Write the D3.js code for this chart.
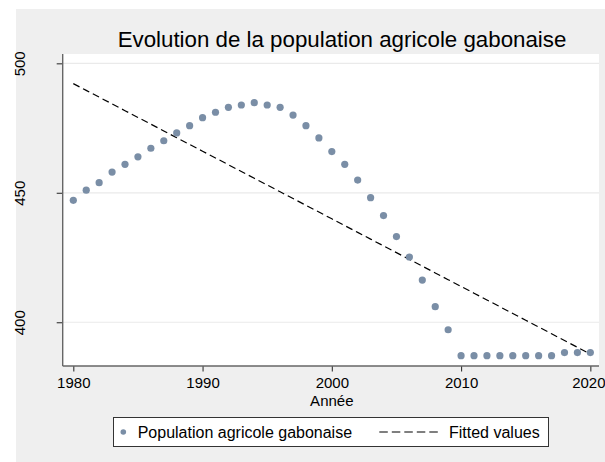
<!DOCTYPE html>
<html>
<head>
<meta charset="utf-8">
<script src="https://cdn.jsdelivr.net/npm/d3@7"></script>
<style>
	body { margin: 0; background: #fff; }
	svg { display: block; font-family: "Liberation Sans", Arial, sans-serif; }
</style>
</head>
<body>
<div id="chart"></div>
<script>
const years = d3.range(1980, 2021);
// population agricole (milliers)
const population = [
	447.1, 451.0, 453.9, 458.0, 461.0, 463.9, 467.2, 470.1, 473.1, 475.9,
	479.0, 481.1, 483.0, 483.9, 484.8, 483.9, 483.0, 480.0, 475.9, 471.2,
	465.9, 461.0, 454.9, 448.1, 441.2, 433.1, 425.2, 416.3, 406.0, 397.1,
	387.1, 387.1, 387.1, 387.1, 387.1, 387.1, 387.1, 387.1, 388.3, 388.3,
	388.3
];
const xTicks = [1980, 1990, 2000, 2010, 2020];
const yTicks = [400, 450, 500];
const title = 'Evolution de la population agricole gabonaise';
const xTitle = 'Année';
const legendLabels = ['Population agricole gabonaise', 'Fitted values'];

const width = 605, height = 462;
const margin = {t:54, r:6, b:96, l:62.7};
const w = width - margin.l - margin.r;
const h = height - margin.t - margin.b;

const data = years.map((y, i) => ({year: y, value: population[i]}));

// linear fit (like Stata lfit)
const mx = d3.mean(data, d => d.year);
const my = d3.mean(data, d => d.value);
const slope = d3.sum(data, d => (d.year - mx) * (d.value - my)) / d3.sum(data, d => (d.year - mx) ** 2);
const fitted = data.map(d => ({year: d.year, value: my + slope * (d.year - mx)}));

const scaleX = d3.scaleLinear().domain([1979.18, 2020.67]).range([0, w]);
const scaleY = d3.scaleLinear().domain([383.1, 503.6]).range([h, 0]);

const svg = d3.select('#chart').append('svg')
	.attr('width', width)
	.attr('height', height);

// outer gray region
svg.append('rect')
	.attr('x', 16).attr('y', 9)
	.attr('width', width - 16).attr('height', height - 9)
	.attr('fill', '#efefef');

svg.append('text')
	.attr('x', 342).attr('y', 46.5)
	.attr('text-anchor', 'middle')
	.style('font-size', '22.3px')
	.attr('fill', '#000')
	.text(title);

const plot = svg.append('g')
	.attr('transform', `translate(${margin.l},${margin.t})`);

plot.append('rect')
	.attr('width', w).attr('height', h)
	.attr('fill', '#fff');

// grid
plot.selectAll('.grid')
	.data(yTicks)
	.enter().append('line')
	.attr('class', 'grid')
	.attr('x1', 0).attr('x2', w)
	.attr('y1', d => scaleY(d)).attr('y2', d => scaleY(d))
	.attr('stroke', '#eaeaea')
	.attr('stroke-width', 1.2);

// axes
const axisY = d3.axisLeft(scaleY)
	.tickValues(yTicks)
	.tickSize(6)
	.tickPadding(0)
	.tickFormat(d3.format('d'));

const axisX = d3.axisBottom(scaleX)
	.tickValues(xTicks)
	.tickSize(5.5)
	.tickPadding(6)
	.tickFormat(d3.format('d'));

const axisYNode = plot.append('g').attr('class', 'axis-y').call(axisY);
axisYNode.select('.domain').remove();
axisYNode.selectAll('line').attr('stroke', '#333').attr('stroke-width', 1.1);
axisYNode.selectAll('text')
	.attr('x', null).attr('dy', null)
	.attr('transform', 'translate(-37.5,0) rotate(-90)')
	.attr('text-anchor', 'middle')
	.style('font-size', '15px')
	.attr('fill', '#000');

const axisXNode = plot.append('g').attr('class', 'axis-x')
	.attr('transform', `translate(0,${h})`)
	.call(axisX);
axisXNode.select('.domain').remove();
axisXNode.selectAll('line').attr('stroke', '#333').attr('stroke-width', 1.1);
axisXNode.selectAll('text')
	.style('font-size', '15px')
	.attr('fill', '#000');
// keep the last label inside the window
axisXNode.selectAll('text')
	.filter(d => d === 2020)
	.attr('dx', -2);

// axis lines
plot.append('line')
	.attr('x1', 0).attr('x2', 0).attr('y1', 0).attr('y2', h)
	.attr('stroke', '#666').attr('stroke-width', 1.4);
plot.append('line')
	.attr('x1', 0).attr('x2', w).attr('y1', h).attr('y2', h)
	.attr('stroke', '#666').attr('stroke-width', 1.4);

plot.append('text')
	.attr('x', scaleX(2000)).attr('y', h + 39.5)
	.attr('text-anchor', 'middle')
	.style('font-size', '15px')
	.text(xTitle);

// fitted line
const line = d3.line()
	.x(d => scaleX(d.year))
	.y(d => scaleY(d.value));

plot.append('path')
	.datum(fitted)
	.attr('d', line)
	.attr('fill', 'none')
	.attr('stroke', '#000')
	.attr('stroke-width', 1.2)
	.attr('stroke-dasharray', '7,4');

// points
plot.selectAll('.pt')
	.data(data)
	.enter().append('circle')
	.attr('class', 'pt')
	.attr('cx', d => scaleX(d.year))
	.attr('cy', d => scaleY(d.value))
	.attr('r', 3.6)
	.attr('fill', '#7a8ea6');

// legend
const legend = svg.append('g');
legend.append('rect')
	.attr('x', 113.5).attr('y', 417.5)
	.attr('width', 435).attr('height', 29)
	.attr('fill', '#fff')
	.attr('stroke', '#333')
	.attr('stroke-width', 1);
legend.append('circle')
	.attr('cx', 123.3).attr('cy', 432)
	.attr('r', 2.8)
	.attr('fill', '#7a8ea6');
legend.append('text')
	.attr('x', 137.7).attr('y', 437.5)
	.style('font-size', '16px')
	.text(legendLabels[0]);
legend.append('line')
	.attr('x1', 379.3).attr('x2', 438.3)
	.attr('y1', 432).attr('y2', 432)
	.attr('stroke', '#000')
	.attr('stroke-width', 1.2)
	.attr('stroke-dasharray', '8.5,4');
legend.append('text')
	.attr('x', 449).attr('y', 437.5)
	.style('font-size', '16px')
	.text(legendLabels[1]);
</script>
</body>
</html>
